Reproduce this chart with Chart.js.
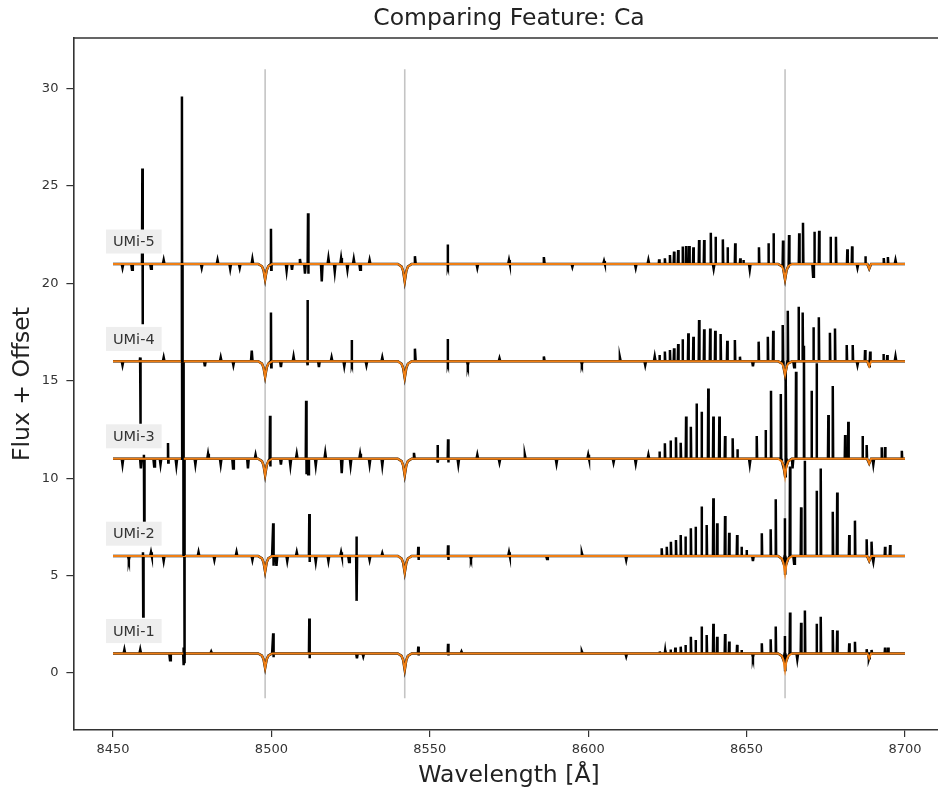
<!DOCTYPE html>
<html><head><meta charset="utf-8">
<script src="https://cdn.jsdelivr.net/npm/chart.js@4.4.1/dist/chart.umd.min.js"></script>
<style>html,body{margin:0;padding:0;background:#fff;overflow:hidden;width:938px;height:793px}#wrap{width:994px;height:793px}</style>
</head><body><div id="wrap"><canvas id="c" width="994" height="793"></canvas></div>
<script>
// ---------------- data ----------------
const starNames = ['UMi-1', 'UMi-2', 'UMi-3', 'UMi-4', 'UMi-5'];
const offsets = [1, 6, 11, 16, 21];
const caLines = [8498.02, 8542.09, 8662.14];
const xTicks = [8450, 8500, 8550, 8600, 8650, 8700];
const yTicks = [0, 5, 10, 15, 20, 25, 30];

// depth of model Ca triplet absorption per star (8498, 8542, 8662)
const caDepthUMi1 = [0.75, 0.85, 0.85];
const caDepthUMi2 = [0.8, 0.85, 0.9];
const caDepthUMi3 = [0.85, 0.85, 0.9];
const caDepthUMi4 = [0.8, 0.85, 0.7];
const caDepthUMi5 = [0.8, 0.9, 0.8];
const dipOffsets = [-2.2, -1.0, -0.5, 0, 0.5, 1.0, 2.2];
const dipShape = [0, 0.15, 0.4, 1, 0.4, 0.15, 0];
const modelWeak = [[8688.7, 0.25]];

// sky emission lines: wavelength and height above continuum
const skyWlUMi1 = [8622.6, 8624.3, 8626.0, 8627.5, 8629.2, 8630.7, 8632.4, 8633.9, 8635.8, 8637.4, 8639.5, 8640.7, 8643.2, 8644.5, 8647.0, 8648.4, 8654.8, 8657.6, 8659.2, 8662.1, 8663.7, 8667.2, 8668.4, 8672.1, 8673.4, 8677.2, 8678.6, 8682.4, 8684.2, 8687.9, 8689.5, 8693.7, 8694.7];
const skyAmpUMi1 = [0.1, 0.15, 0.2, 0.3, 0.35, 0.44, 0.86, 0.69, 1.38, 0.95, 1.52, 0.86, 1.0, 0.61, 0.44, 0.18, 0.52, 0.73, 1.38, 0.9, 2.1, 1.58, 2.2, 1.52, 1.89, 1.2, 1.18, 0.52, 0.6, 0.22, 0.18, 0.3, 0.3];
const skyWlUMi2 = [8623.2, 8624.8, 8626.1, 8627.7, 8629.2, 8630.7, 8632.4, 8633.9, 8635.8, 8637.4, 8639.5, 8640.7, 8643.2, 8644.5, 8647.0, 8648.4, 8650.0, 8654.8, 8657.6, 8659.2, 8662.1, 8663.7, 8667.2, 8668.4, 8672.1, 8673.4, 8677.2, 8678.6, 8682.4, 8684.2, 8687.9, 8689.5, 8693.7, 8695.3];
const skyAmpUMi2 = [0.4, 0.48, 0.74, 0.83, 1.08, 1.0, 1.43, 1.51, 2.54, 1.6, 2.97, 1.68, 2.06, 1.2, 1.08, 0.48, 0.31, 1.17, 1.38, 2.92, 1.94, 4.6, 2.5, 4.9, 3.36, 4.5, 2.28, 3.26, 1.08, 1.82, 0.86, 0.74, 0.48, 0.57];
const skyWlUMi3 = [8622.5, 8624.2, 8626.0, 8627.7, 8629.2, 8630.9, 8632.4, 8634.2, 8635.8, 8637.9, 8639.5, 8641.4, 8643.2, 8645.6, 8647.1, 8653.2, 8656.0, 8657.7, 8660.8, 8662.4, 8665.6, 8668.1, 8670.5, 8672.1, 8675.8, 8677.2, 8681.1, 8682.1, 8686.6, 8687.9, 8692.6, 8693.7, 8699.0];
const skyAmpUMi3 = [0.37, 0.79, 0.93, 1.1, 0.82, 2.16, 1.64, 2.84, 2.41, 3.61, 2.16, 2.16, 1.17, 1.05, 0.48, 1.17, 1.47, 3.49, 3.32, 4.5, 4.47, 5.8, 3.49, 4.9, 2.24, 3.73, 1.22, 1.9, 1.17, 0.7, 0.59, 0.6, 0.41];
const skyWlUMi4 = [8622.5, 8624.2, 8625.8, 8627.1, 8628.4, 8629.8, 8631.6, 8633.2, 8635.0, 8636.6, 8638.5, 8640.1, 8641.8, 8643.9, 8646.3, 8647.9, 8653.8, 8656.7, 8658.4, 8661.4, 8663.0, 8666.4, 8667.7, 8671.1, 8672.8, 8676.3, 8677.9, 8681.6, 8683.5, 8687.4, 8689.0, 8693.2, 8694.4];
const skyAmpUMi4 = [0.32, 0.5, 0.58, 0.67, 0.89, 1.13, 1.44, 1.26, 2.12, 1.64, 1.69, 1.57, 1.4, 1.06, 1.09, 0.24, 1.01, 1.26, 1.57, 1.86, 2.6, 2.8, 2.5, 1.75, 2.26, 1.47, 1.69, 0.84, 0.84, 0.58, 0.5, 0.38, 0.32];
const skyWlUMi5 = [8622.4, 8624.2, 8625.8, 8627.1, 8628.4, 8629.8, 8630.9, 8631.9, 8633.2, 8635.0, 8636.6, 8638.7, 8640.2, 8642.5, 8644.0, 8646.4, 8648.0, 8649.0, 8653.9, 8656.9, 8658.5, 8661.5, 8663.4, 8666.6, 8667.8, 8671.4, 8672.9, 8676.5, 8678.2, 8681.8, 8683.3, 8687.5, 8693.3, 8694.6];
const skyAmpUMi5 = [0.24, 0.29, 0.46, 0.63, 0.71, 0.89, 0.92, 0.92, 0.85, 1.23, 1.23, 1.6, 1.4, 1.26, 0.85, 1.06, 0.29, 0.2, 0.85, 1.06, 1.57, 1.2, 1.48, 1.57, 2.12, 1.65, 1.7, 1.4, 1.4, 0.75, 0.9, 0.4, 0.3, 0.35];

// strong single spikes: [wavelength, max flux, min flux]
const spikesUMi1 = [[8472.3, 1.3, 0.4], [8500.6, 2.04, 0.8], [8512.0, 2.8, 0.75], [8546.4, 1.35, 0.9], [8555.8, 1.5, 0.9]];
const spikesUMi2 = [[8459.5, 6.2, 2.9], [8472.5, 11.0, 0.5], [8500.6, 7.68, 5.5], [8512.0, 8.16, 5.7], [8526.9, 7.0, 3.7], [8546.4, 6.48, 5.8], [8555.8, 6.55, 5.8]];
const spikesUMi3 = [[8459.8, 11.2, 7.75], [8467.4, 11.8, 10.8], [8472.2, 16.0, 6.0], [8499.6, 13.2, 10.6], [8511.0, 13.97, 10.2], [8552.5, 11.7, 10.8], [8555.8, 12.0, 10.8]];
const spikesUMi4 = [[8458.6, 16.2, 12.8], [8471.8, 21.0, 11.0], [8499.9, 18.5, 15.7], [8511.4, 19.15, 15.8], [8525.4, 17.1, 15.9], [8555.7, 17.15, 15.9]];
const spikesUMi5 = [[8459.3, 25.9, 17.9], [8471.8, 29.6, 16.0], [8499.9, 22.8, 20.7], [8511.6, 23.6, 20.5], [8555.7, 22.0, 20.9]];

// small noise features: [wavelength, deviation from continuum]
const noiseUMi1 = [[8453.6, 0.2], [8458.6, 0.2], [8468, -0.35], [8481, 0.1], [8527, -0.25], [8529, -0.15], [8560, 0.1], [8598, 0.1], [8612, -0.15], [8652, -0.2], [8666, -0.3], [8688.6, -0.3]];
const noiseUMi2 = [[8455, -0.2], [8462, 0.2], [8466, -0.25], [8477, 0.2], [8482, -0.2], [8489, 0.2], [8494, -0.2], [8501.6, -0.5], [8505, -0.25], [8508, 0.2], [8514, -0.3], [8518, -0.25], [8522, 0.2], [8524.5, -0.3], [8531, -0.2], [8535, 0.15], [8563, -0.15], [8575, 0.2], [8587, -0.15], [8598, 0.15], [8612, -0.2], [8652, -0.25], [8665, -0.4], [8690, -0.3]];
const noiseUMi3 = [[8453, -0.3], [8458.8, -0.5], [8463, -0.4], [8465, -0.3], [8470, -0.35], [8476, -0.3], [8480, 0.25], [8484, -0.3], [8487.9, -0.5], [8492.6, -0.5], [8495, 0.2], [8503, -0.3], [8506, -0.35], [8508, 0.25], [8511.6, -0.8], [8514, -0.35], [8517, 0.3], [8522.2, -0.75], [8525, -0.35], [8528, 0.25], [8531, -0.3], [8535, -0.35], [8545, 0.3], [8559, -0.3], [8565, 0.2], [8572, -0.2], [8580, 0.2], [8590, -0.25], [8600, 0.2], [8608, -0.2], [8615, -0.25], [8619, 0.2], [8651, -0.3], [8664.5, -0.5], [8690, -0.3]];
const noiseUMi4 = [[8453, -0.2], [8466, 0.2], [8479, -0.25], [8484, 0.2], [8488, -0.2], [8493.8, 0.55], [8503, -0.3], [8507, 0.25], [8515, -0.3], [8519, 0.2], [8523, -0.25], [8530, -0.2], [8535, 0.2], [8545.3, 0.65], [8562, -0.2], [8572, 0.15], [8586, 0.25], [8598, -0.15], [8610, 0.2], [8618, -0.2], [8621, 0.25], [8652, -0.25], [8665, -0.3], [8685, -0.2], [8697, 0.25]];
const noiseUMi5 = [[8453, -0.2], [8456, -0.3], [8462, -0.25], [8466, 0.2], [8478, -0.2], [8483, 0.2], [8487, -0.25], [8490, -0.2], [8494, 0.25], [8504.8, -0.35], [8506.5, -0.3], [8509, 0.25], [8510.6, -0.5], [8515.9, -0.9], [8518, 0.3], [8520, -0.4], [8522, 0.3], [8524, -0.3], [8526, 0.25], [8528, -0.3], [8531, 0.2], [8545.3, 0.4], [8565, -0.2], [8575, 0.2], [8586, 0.35], [8595, -0.15], [8605, 0.15], [8615, -0.2], [8619, 0.2], [8639.6, -0.25], [8651, -0.3], [8671, -0.66], [8685, -0.2], [8697, 0.2]];

// ---------------- build ----------------
const caDepths = [caDepthUMi1, caDepthUMi2, caDepthUMi3, caDepthUMi4, caDepthUMi5];
const skyWl = [skyWlUMi1, skyWlUMi2, skyWlUMi3, skyWlUMi4, skyWlUMi5];
const skyAmp = [skyAmpUMi1, skyAmpUMi2, skyAmpUMi3, skyAmpUMi4, skyAmpUMi5];
const spikes = [spikesUMi1, spikesUMi2, spikesUMi3, spikesUMi4, spikesUMi5];
const noise = [noiseUMi1, noiseUMi2, noiseUMi3, noiseUMi4, noiseUMi5];

function buildSeries(i, observed) {
  const base = offsets[i];
  const pts = [{x: xTicks[0], y: base}, {x: xTicks[xTicks.length - 1], y: base}];
  caLines.forEach((c, k) => {
    dipOffsets.forEach((o, j) => pts.push({x: c + o, y: base - caDepths[i][k] * dipShape[j]}));
  });
  modelWeak.forEach(([w, d]) => pts.push({x: w - 0.6, y: base}, {x: w, y: base - d}, {x: w + 0.6, y: base}));
  if (observed) {
    skyWl[i].forEach((w, j) => pts.push({x: w - 0.12, y: base}, {x: w, y: base + skyAmp[i][j]}, {x: w + 0.12, y: base}));
    spikes[i].forEach(([w, hi, lo]) => pts.push({x: w - 0.15, y: base}, {x: w - 0.04, y: hi}, {x: w + 0.04, y: lo}, {x: w + 0.15, y: base}));
    noise[i].forEach(([w, d]) => pts.push({x: w - 0.25, y: base}, {x: w, y: base + d}, {x: w + 0.25, y: base}));
  }
  pts.sort((a, b) => a.x - b.x);
  return pts;
}

const datasets = [];
caLines.forEach((c) => {
  datasets.push({data: [{x: c, y: -1.3}, {x: c, y: 31}], borderColor: '#c4c4c4', borderWidth: 1.6, pointRadius: 0, order: 30, parsing: false});
});
starNames.forEach((n, i) => {
  datasets.push({label: n + ' data', data: buildSeries(i, true), borderColor: '#000000', borderWidth: 2.5, pointRadius: 0, tension: 0, order: 20 - 2 * i, parsing: false});
  datasets.push({label: n + ' model', data: buildSeries(i, false), borderColor: '#f07f14', borderWidth: 2.0, pointRadius: 0, tension: 0, order: 19 - 2 * i, parsing: false});
});

const FONT = 'DejaVu Sans';
const spinePlugin = {
  id: 'spines',
  afterDraw(chart) {
    const {ctx, chartArea: a} = chart;
    ctx.save();
    ctx.strokeStyle = '#333';
    ctx.lineWidth = 1.6;
    ctx.beginPath();
    ctx.moveTo(a.left, a.top); ctx.lineTo(a.right, a.top); ctx.lineTo(a.right, a.bottom);
    ctx.stroke();
    ctx.restore();
  }
};
const labelPlugin = {
  id: 'starLabels',
  afterDatasetsDraw(chart) {
    const {ctx} = chart;
    const xs = chart.scales.x, ys = chart.scales.y;
    ctx.save();
    ctx.font = '14.5px "' + FONT + '"';
    ctx.textBaseline = 'middle';
    starNames.forEach((n, i) => {
      const px = xs.getPixelForValue(xTicks[0]);
      const py = ys.getPixelForValue(offsets[i] + 1.15);
      const w = ctx.measureText(n).width;
      ctx.fillStyle = '#eeeeee';
      ctx.fillRect(px - 7, py - 12, w + 14, 24);
      ctx.fillStyle = '#333';
      ctx.fillText(n, px, py + 1);
    });
    ctx.restore();
  }
};

new Chart(document.getElementById('c'), {
  type: 'line',
  data: {datasets},
  plugins: [spinePlugin, labelPlugin],
  options: {
    responsive: false,
    animation: false,
    normalized: true,
    layout: {padding: {left: 0, right: 49.4, top: 0, bottom: 0}},
    plugins: {
      legend: {display: false},
      tooltip: {enabled: false},
      title: {display: true, text: 'Comparing Feature: Ca', fullSize: false, color: '#222',
        font: {family: FONT, size: 23.5, weight: 'normal'}, padding: {top: 5, bottom: 4.8}}
    },
    scales: {
      x: {
        type: 'linear', min: 8437.5, max: 8712.5,
        afterBuildTicks: (s) => { s.ticks = xTicks.map(v => ({value: v})); },
        afterFit: (s) => { s.height = 63; },
        ticks: {color: '#333', font: {family: FONT, size: 13}, padding: 5, maxRotation: 0, autoSkip: false, callback: (v) => String(v)},
        grid: {drawOnChartArea: false, drawTicks: true, tickLength: 7, color: '#333', lineWidth: 1.2},
        border: {display: true, color: '#333', width: 1.6},
        title: {display: true, text: 'Wavelength [Å]', color: '#222', font: {family: FONT, size: 23.5}, padding: {top: 0, bottom: 3}}
      },
      y: {
        type: 'linear', min: -2.93, max: 32.6,
        afterBuildTicks: (s) => { s.ticks = yTicks.map(v => ({value: v})); },
        afterFit: (s) => { s.width = 73.4; },
        ticks: {color: '#333', font: {family: FONT, size: 13}, padding: 8, autoSkip: false, callback: (v) => String(v)},
        grid: {drawOnChartArea: false, drawTicks: true, tickLength: 7, color: '#333', lineWidth: 1.2},
        border: {display: true, color: '#333', width: 1.6},
        title: {display: true, text: 'Flux + Offset', color: '#222', font: {family: FONT, size: 23.5}, padding: {top: 9, bottom: 0}}
      }
    }
  }
});
</script>
</body></html>
